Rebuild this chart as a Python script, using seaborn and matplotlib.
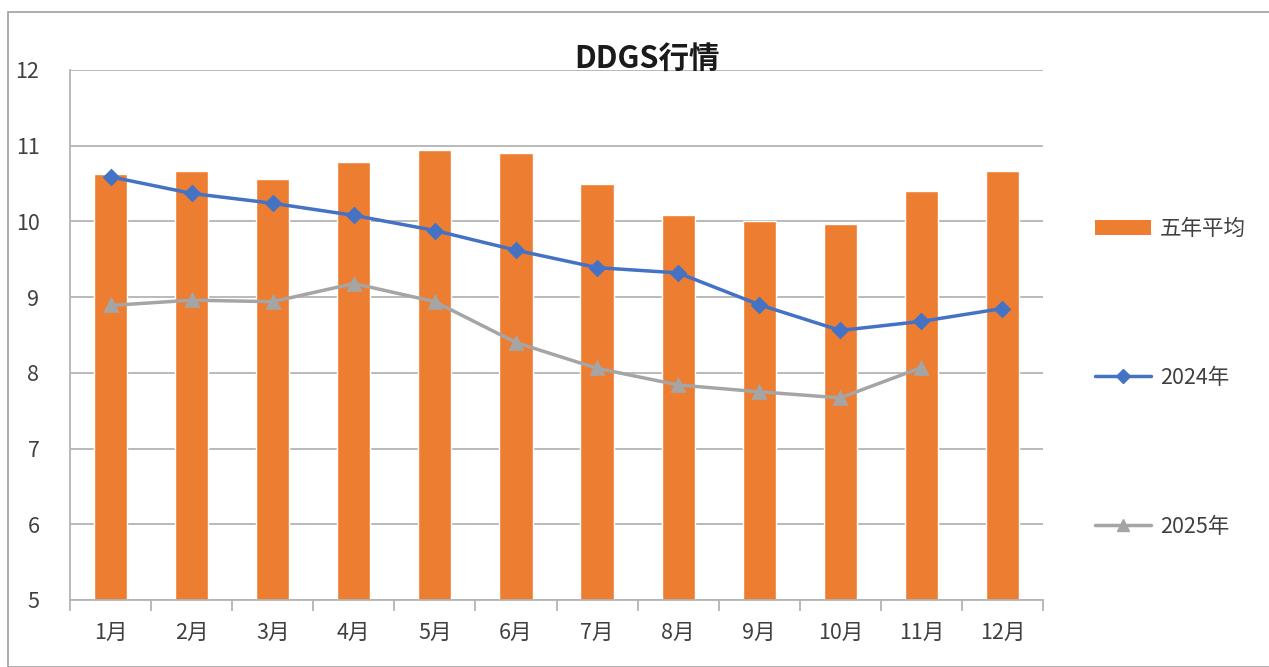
import matplotlib

matplotlib.use("Agg")
import matplotlib.pyplot as plt
import numpy as np
import pandas as pd
import seaborn as sns
from matplotlib.lines import Line2D
from matplotlib.patches import Patch, Rectangle

months = ["1月", "2月", "3月", "4月", "5月", "6月", "7月", "8月", "9月", "10月", "11月", "12月"]
five_year_avg = [10.63, 10.67, 10.56, 10.78, 10.95, 10.91, 10.50, 10.09, 10.01, 9.96, 10.40, 10.67]
price_2024 = [10.59, 10.37, 10.24, 10.08, 9.88, 9.62, 9.39, 9.32, 8.90, 8.56, 8.68, 8.85]
price_2025 = [8.89, 8.96, 8.94, 9.18, 8.94, 8.40, 8.06, 7.84, 7.75, 7.67, 8.07, np.nan]

ORANGE = "#ED7D31"
BLUE = "#4472C4"
GRAY = "#A5A5A5"
GRID = "#B4B4B4"
TEXT = "#404040"

sns.set_theme(style="white")
plt.rcParams["font.family"] = ["Noto Sans CJK SC", "DejaVu Sans"]

fig = plt.figure(figsize=(12.69, 6.67), dpi=100)
ax = fig.add_axes([70 / 1269, 1 - 600 / 667, (1043 - 70) / 1269, (600 - 70) / 667])

df = pd.DataFrame({"month": months, "avg": five_year_avg, "y2024": price_2024, "y2025": price_2025})

sns.barplot(data=df, x="month", y="avg", color=ORANGE, saturation=1, width=0.41, ax=ax, zorder=2)
sns.pointplot(data=df, x="month", y="y2024", color=BLUE, markers="D", markersize=7,
              linewidth=2.5, errorbar=None, ax=ax, zorder=3)
sns.pointplot(data=df.dropna(), x="month", y="y2025", color=GRAY, markers="^", markersize=9,
              linewidth=2.5, errorbar=None, ax=ax, zorder=3)

ax.set_ylim(5, 12)
ax.set_xlim(-0.5, 11.5)
ax.set_yticks(range(5, 13))
ax.yaxis.grid(True, color=GRID, linewidth=1.3, zorder=0)
ax.set_axisbelow(True)
ax.set_xlabel("")
ax.set_ylabel("")

for side in ["top", "right"]:
    ax.spines[side].set_visible(False)
for side in ["left", "bottom"]:
    ax.spines[side].set_color(GRID)
    ax.spines[side].set_linewidth(1.3)

# category labels centred, tick marks between categories
ax.set_xticks(range(len(months)))
ax.set_xticklabels(months)
ax.tick_params(axis="x", length=0, pad=16, labelsize=15.5, labelcolor=TEXT)
ax.set_xticks(np.arange(-0.5, 12, 1), minor=True)
ax.tick_params(axis="x", which="minor", length=8, color=GRID, width=1.3, direction="out", bottom=True)
ax.tick_params(axis="y", length=0, pad=22, labelsize=15.5, labelcolor=TEXT)

fig.text(0.51, 0.912, "DDGS行情", ha="center", va="center", fontsize=22, fontweight="bold", color="#1a1a1a")

handles = [
    Patch(facecolor=ORANGE, edgecolor="none"),
    Line2D([0], [0], color=BLUE, linewidth=2.5, marker="D", markersize=7),
    Line2D([0], [0], color=GRAY, linewidth=2.5, marker="^", markersize=9),
]
fig.legend(handles, ["五年平均", "2024年", "2025年"], loc="center left",
           bbox_to_anchor=(1076 / 1269, 1 - 378 / 667), frameon=False, fontsize=15.5,
           labelspacing=5.9, handlelength=2.6, handletextpad=0.4, labelcolor=TEXT)

fig.patches.append(Rectangle((8 / 1269, 0), 1, 1 - 12 / 667, transform=fig.transFigure,
                             fill=False, edgecolor="#A0A0A0", linewidth=1.2))

fig.savefig("out.png", dpi=100)
